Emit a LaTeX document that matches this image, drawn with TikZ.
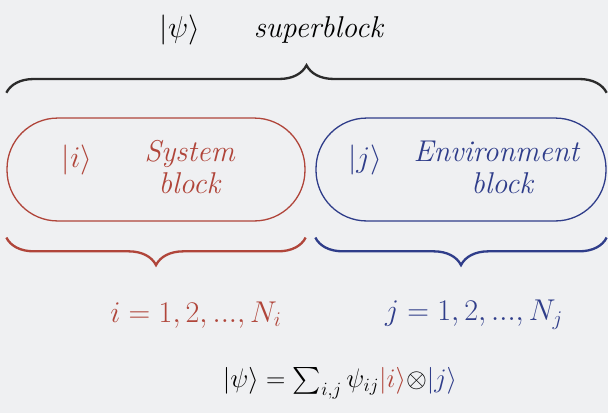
\documentclass[tikz,border=0pt]{standalone}
\usepackage{fix-cm}
\usepackage{amsmath,amssymb}
\usetikzlibrary{decorations.pathreplacing}
\definecolor{SysRed}{HTML}{B0453A}
\definecolor{EnvBlue}{HTML}{2F3D8A}
\definecolor{PaperGray}{HTML}{EFF0F2}
\definecolor{BraceInk}{HTML}{2B2B2B}

\begin{document}
\begin{tikzpicture}[x=0.69pt,y=-0.69pt,
    blockbox/.style={draw,rounded corners=35pt,line width=0.9pt,
                     minimum height=71pt,inner sep=0pt},
    lbl/.style={font=\huge,inner sep=0pt},
    brc/.style={decorate,decoration={brace,amplitude=19pt},line width=1.6pt}]
  \fill[PaperGray] (0,0) rectangle (608,413);
  \useasboundingbox (0,0) rectangle (608,413);
  % title
  \node[lbl] (psi) at (180,30) {$|\psi\rangle$};
  \node[lbl] (super) at (319,30) {\textit{superblock}};
  % the two blocks
  \node[blockbox,SysRed,minimum width=205.6pt] (sys) at (156,169.5) {};
  \node[blockbox,EnvBlue,minimum width=200.1pt] (env) at (461,169.5) {};
  \node[lbl,SysRed] (keti) at (77,160) {$|i\rangle$};
  \node[lbl,SysRed,align=center] (systxt) at (190,167)
    {\textit{System}\\[-3pt]\textit{block}};
  \node[lbl,EnvBlue] (ketj) at (365,160) {$|j\rangle$};
  \node[lbl,EnvBlue,align=center] (envtxt) at (497,167)
    {\textit{Environment}\\[-3pt]\hspace*{8pt}\textit{block}};
  % braces
  \draw[brc,BraceInk] ([yshift=17pt]sys.north west) -- ([yshift=17pt]env.north east);
  \draw[brc,SysRed,decoration={mirror}] ([yshift=-11pt]sys.south west) -- ([yshift=-11pt]sys.south east);
  \draw[brc,EnvBlue,decoration={mirror}] ([yshift=-11pt]env.south west) -- ([yshift=-11pt]env.south east);
  % ranges and state
  \node[lbl,SysRed] (irange) at (196,315) {$i=1,2,...,N_i$};
  \node[lbl,EnvBlue] (jrange) at (474,315) {$j=1,2,...,N_j$};
  \node[lbl,font=\fontsize{18.5}{22}\selectfont] (state) at (340,383)
    {$|\psi\rangle=\sum_{i,j}\psi_{ij}\textcolor{SysRed}{|i\rangle}{\otimes}\textcolor{EnvBlue}{|j\rangle}$};
\end{tikzpicture}
\end{document}
